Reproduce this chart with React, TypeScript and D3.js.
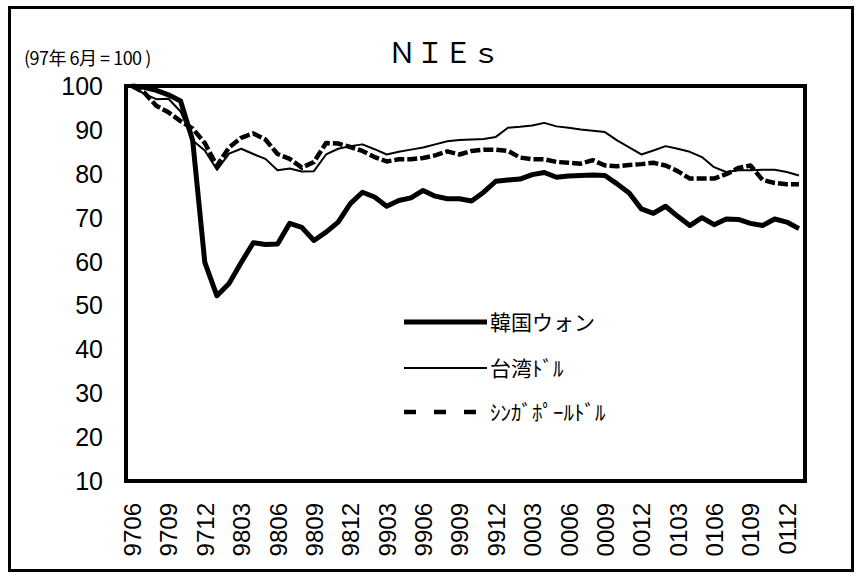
import React from 'react'
import * as d3 from 'd3'

const W = 861
const H = 577

const months = [
  '9706', '9707', '9708', '9709', '9710', '9711', '9712',
  '9801', '9802', '9803', '9804', '9805', '9806', '9807', '9808', '9809', '9810', '9811', '9812',
  '9901', '9902', '9903', '9904', '9905', '9906', '9907', '9908', '9909', '9910', '9911', '9912',
  '0001', '0002', '0003', '0004', '0005', '0006', '0007', '0008', '0009', '0010', '0011', '0012',
  '0101', '0102', '0103', '0104', '0105', '0106', '0107', '0108', '0109', '0110', '0111', '0112',
  '0201',
]

const tickLabels = [
  '9706', '9709', '9712', '9803', '9806', '9809', '9812', '9903', '9906', '9909',
  '9912', '0003', '0006', '0009', '0012', '0103', '0106', '0109', '0112',
]

const yTicks = [10, 20, 30, 40, 50, 60, 70, 80, 90, 100]

const korea = [
  100, 99.7, 99.0, 98.0, 96.6, 87.6, 59.8, 52.2, 55.0, 59.8, 64.3, 63.9, 64.0, 68.7,
  67.8, 64.8, 66.7, 69.0, 73.2, 75.8, 74.7, 72.6, 73.9, 74.5, 76.2, 74.9, 74.3, 74.3,
  73.8, 75.8, 78.3, 78.6, 78.8, 79.8, 80.3, 79.2, 79.5, 79.6, 79.7, 79.6, 77.7, 75.6,
  72.0, 71.0, 72.6, 70.3, 68.2, 70.0, 68.4, 69.7, 69.6, 68.7, 68.2, 69.7, 69.0, 67.5,
]

const taiwan = [
  100, 98.2, 97.0, 97.1, 94.2, 87.6, 85.3, 80.9, 84.6, 85.7, 84.5, 83.4, 80.8, 81.2,
  80.5, 80.6, 84.4, 85.7, 86.3, 86.7, 85.6, 84.4, 85.0, 85.5, 86.0, 86.7, 87.4, 87.7,
  87.8, 87.9, 88.4, 90.5, 90.7, 91.0, 91.6, 90.8, 90.5, 90.1, 89.8, 89.5, 87.6, 86.0,
  84.4, 85.3, 86.3, 85.7, 85.0, 83.8, 81.5, 80.4, 80.8, 80.8, 80.9, 80.9, 80.4, 79.6,
]

const singapore = [
  100, 98.5, 95.5, 94.0, 92.0, 90.3, 87.0, 81.8, 86.0, 88.2, 89.2, 87.8, 84.5, 83.4,
  81.4, 82.7, 87.0, 86.9, 86.1, 85.2, 83.8, 82.8, 83.3, 83.3, 83.6, 84.2, 85.1, 84.4,
  85.2, 85.5, 85.5, 85.2, 83.7, 83.3, 83.3, 82.7, 82.5, 82.3, 83.1, 81.9, 81.7, 82.0,
  82.2, 82.5, 81.9, 80.6, 78.9, 78.9, 78.9, 79.9, 81.3, 81.9, 78.6, 77.9, 77.6, 77.6,
]

const seriesNames = ['韓国ウォン', '台湾ﾄﾞﾙ', 'ｼﾝｶﾞﾎﾟｰﾙﾄﾞﾙ']

const PLOT = { left: 126, right: 805, top: 86, bottom: 481 }
const NUM_FONT = '"Liberation Sans", Arial, sans-serif'
const JP_FONT = '"Noto Sans CJK JP", sans-serif'

export default function App() {
  const x = d3.scaleBand<string>()
    .domain(months)
    .range([PLOT.left, PLOT.right])
  const cx = (m: string) => (x(m) as number) + x.bandwidth() / 2

  const y = d3.scaleLinear()
    .domain([10, 100])
    .range([PLOT.bottom, PLOT.top])

  const line = d3.line<number>()
    .x((_, i) => cx(months[i]))
    .y((d) => y(d))

  const series = [
    { name: seriesNames[0], values: korea, width: 5, dash: undefined, legendDash: undefined },
    { name: seriesNames[1], values: taiwan, width: 2, dash: undefined, legendDash: undefined },
    { name: seriesNames[2], values: singapore, width: 4.5, dash: '10,3', legendDash: '12,18' },
  ]

  const legendY = [322, 368, 412]

  return (
    <svg width={W} height={H} style={{ position: 'absolute', left: 0, top: 0, background: '#fff' }}>
      <rect x={0} y={0} width={W} height={H} fill="#fff" />
      {/* outer frame */}
      <rect x={9.5} y={7.5} width={843} height={563} fill="none" stroke="#000" strokeWidth={3} />

      <text x={24} y={65} fontFamily={JP_FONT} fontSize={18} letterSpacing={-0.5} fill="#000">(97年 6月 = 100 )</text>
      <text x={388} y={63} fontFamily={JP_FONT} fontSize={28} fill="#000">ＮＩＥｓ</text>

      {/* y tick labels */}
      {yTicks.map((t) => (
        <text key={t} x={103} y={y(t)} dy="0.36em" textAnchor="end"
          fontFamily={NUM_FONT} fontSize={25} fill="#000">{t}</text>
      ))}

      {/* x tick labels */}
      {tickLabels.map((m) => (
        <text key={m} transform={`translate(${cx(m) + 9},503) rotate(-90)`} textAnchor="end"
          fontFamily={NUM_FONT} fontSize={24} fill="#000">{m}</text>
      ))}

      {/* series */}
      {series.map((s) => (
        <path key={s.name} d={line(s.values) || ''} fill="none" stroke="#000"
          strokeWidth={s.width} strokeDasharray={s.dash} strokeLinejoin="round" />
      ))}

      {/* plot frame */}
      <rect x={PLOT.left} y={PLOT.top} width={PLOT.right - PLOT.left} height={PLOT.bottom - PLOT.top}
        fill="none" stroke="#000" strokeWidth={4} />

      {/* legend */}
      {series.map((s, i) => (
        <g key={s.name}>
          <line x1={404} x2={487} y1={legendY[i]} y2={legendY[i]} stroke="#000"
            strokeWidth={s.width} strokeDasharray={s.legendDash} />
          <text x={490} y={legendY[i]} dy="0.36em" fontFamily={JP_FONT} fontSize={21} fill="#000">{s.name}</text>
        </g>
      ))}
    </svg>
  )
}
